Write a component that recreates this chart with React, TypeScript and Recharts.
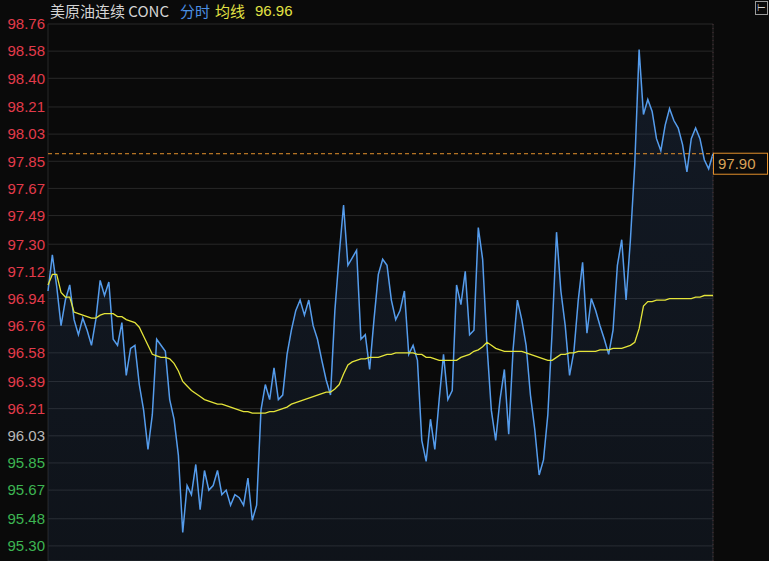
import React from 'react';
import { ComposedChart, Area, Line, XAxis, YAxis, CartesianGrid, ReferenceLine } from 'recharts';

// price ticks on the left, change % on the right (same rows)
const priceTicks = [
  98.76, 98.58, 98.40, 98.21, 98.03, 97.85, 97.67, 97.49, 97.30, 97.12,
  96.94, 96.76, 96.58, 96.39, 96.21, 96.03, 95.85, 95.67, 95.48, 95.30,
];
const pctLabels = [
  '2.84%', '2.65%', '2.46%', '2.27%', '2.08%', '1.90%', '1.71%', '1.52%', '1.33%', '1.14%',
  '0.95%', '0.76%', '0.57%', '0.38%', '0.19%', '0.00%', '0.19%', '0.38%', '0.57%', '0.76%',
];
const prevClose = 96.03;
const lastPrice = 97.90;
const avgNow = '96.96';
// hour marks on the time axis (index of 3-minute bars)
const hourMarks = [0, 20, 40, 60, 80, 100, 120];

// 3-minute samples
const prices = [
  96.99, 97.23, 97.02, 96.76, 96.93, 97.03, 96.80, 96.70, 96.81, 96.73,
  96.63, 96.80, 97.06, 96.96, 97.05, 96.67, 96.63, 96.78, 96.43, 96.61,
  96.63, 96.37, 96.20, 95.94, 96.17, 96.67, 96.63, 96.59, 96.27, 96.14,
  95.90, 95.39, 95.70, 95.64, 95.84, 95.54, 95.80, 95.67, 95.70, 95.80,
  95.64, 95.67, 95.57, 95.64, 95.62, 95.57, 95.75, 95.47, 95.57, 96.20,
  96.37, 96.27, 96.48, 96.27, 96.30, 96.57, 96.73, 96.86, 96.93, 96.83,
  96.93, 96.76, 96.67, 96.53, 96.40, 96.30, 96.86, 97.23, 97.56, 97.16,
  97.21, 97.26, 96.67, 96.70, 96.47, 96.80, 97.10, 97.20, 97.16, 96.93,
  96.80, 96.86, 96.99, 96.57, 96.63, 96.53, 96.00, 95.86, 96.14, 95.94,
  96.27, 96.57, 96.27, 96.33, 97.03, 96.90, 97.12, 96.70, 96.73, 97.41,
  97.20, 96.63, 96.20, 96.00, 96.27, 96.47, 96.04, 96.60, 96.93, 96.80,
  96.63, 96.30, 96.07, 95.77, 95.87, 96.17, 96.73, 97.38, 96.99, 96.76,
  96.43, 96.59, 96.93, 97.18, 96.71, 96.94, 96.86, 96.76, 96.67, 96.57,
  96.73, 97.16, 97.33, 96.93, 97.33, 97.83, 98.59, 98.16, 98.26, 98.18,
  98.00, 97.92, 98.09, 98.20, 98.12, 98.07, 97.96, 97.78, 98.00, 98.07,
  98.00, 97.86, 97.80, 97.90,
];

const avgLine = [
  97.03, 97.10, 97.10, 96.98, 96.95, 96.95, 96.85, 96.84, 96.83, 96.82,
  96.81, 96.81, 96.83, 96.84, 96.84, 96.84, 96.82, 96.82, 96.80, 96.79,
  96.78, 96.75, 96.69, 96.63, 96.57, 96.56, 96.55, 96.55, 96.54, 96.51,
  96.46, 96.39, 96.36, 96.33, 96.31, 96.29, 96.27, 96.26, 96.25, 96.24,
  96.24, 96.23, 96.22, 96.21, 96.20, 96.19, 96.19, 96.18, 96.18, 96.18,
  96.18, 96.19, 96.19, 96.20, 96.21, 96.22, 96.24, 96.25, 96.26, 96.27,
  96.28, 96.29, 96.30, 96.31, 96.32, 96.32, 96.34, 96.37, 96.44, 96.50,
  96.52, 96.53, 96.54, 96.54, 96.55, 96.55, 96.55, 96.56, 96.57, 96.57,
  96.58, 96.58, 96.58, 96.58, 96.58, 96.57, 96.57, 96.55, 96.55, 96.54,
  96.53, 96.53, 96.53, 96.53, 96.53, 96.55, 96.56, 96.57, 96.59, 96.60,
  96.62, 96.65, 96.63, 96.61, 96.60, 96.59, 96.59, 96.59, 96.59, 96.59,
  96.58, 96.57, 96.56, 96.55, 96.54, 96.53, 96.53, 96.55, 96.57, 96.57,
  96.58, 96.58, 96.59, 96.59, 96.59, 96.59, 96.59, 96.60, 96.60, 96.60,
  96.61, 96.61, 96.61, 96.62, 96.63, 96.65, 96.74, 96.89, 96.92, 96.92,
  96.93, 96.93, 96.93, 96.94, 96.94, 96.94, 96.94, 96.94, 96.94, 96.95,
  96.95, 96.96, 96.96, 96.96,
];

const rows = prices.map((p, i) => ({ i, price: p, avg: avgLine[i] }));

const RED = '#e23b4b';
const GREEN = '#3db552';
const GREY = '#b8b8b8';
const FONT = '"Liberation Sans", Arial, sans-serif';
const CJK = '"Noto Sans CJK SC", "Liberation Sans", sans-serif';

const tickColor = (v: number) => (Math.abs(v - prevClose) < 0.005 ? GREY : v > prevClose ? RED : GREEN);

const LeftTick = (props: any) => {
  const { x, y, payload } = props;
  return (
    <text x={x} y={y} dy="0.355em" textAnchor="end" fontSize={15} fontFamily={FONT} fill={tickColor(payload.value)}>
      {payload.value.toFixed(2)}
    </text>
  );
};

const RightTick = (props: any) => {
  const { x, y, payload } = props;
  const idx = priceTicks.indexOf(payload.value);
  // the row under the last-price tag is hidden by it
  if (idx === 5) return null;
  return (
    <text x={x} y={y} dy="0.355em" textAnchor="start" fontSize={15} fontFamily={FONT} fill={tickColor(payload.value)}>
      {pctLabels[idx]}
    </text>
  );
};

const PriceTag = (props: any) => {
  const vb = props.viewBox || {};
  const left = vb.x + vb.width;
  return (
    <g>
      <rect x={left + 0.5} y={vb.y - 0.5} width={54} height={21} fill="#0a0a0a" stroke="#e3902c" strokeWidth={1} />
      <text x={left + 5} y={vb.y + 10} dy="0.355em" fontSize={15} fontFamily={FONT} fill="#d8a257">
        {lastPrice.toFixed(2)}
      </text>
    </g>
  );
};

export default function App() {
  return (
    <div style={{ position: 'absolute', left: 0, top: 0, width: 769, height: 561, background: '#0a0a0a', overflow: 'hidden' }}>
      <div style={{ position: 'absolute', top: 0, left: 0, width: 769, height: 22, fontFamily: CJK, fontSize: 15, lineHeight: '22px' }}>
        <span style={{ position: 'absolute', left: 50, top: 0, color: '#d4d4d4' }}>美原油连续 CONC</span>
        <span style={{ position: 'absolute', left: 180, top: 0, color: '#4b8fe2' }}>分时</span>
        <span style={{ position: 'absolute', left: 215, top: 0, color: '#e2e244' }}>均线</span>
        <span style={{ position: 'absolute', left: 255, top: 0, color: '#e2e244', fontFamily: FONT }}>{avgNow}</span>
        <span style={{ position: 'absolute', left: 755, top: 1, width: 11, height: 12, border: '1px solid #9a9a9a', color: '#cfcfcf', fontSize: 10, lineHeight: '12px', textAlign: 'center', fontFamily: FONT }}>⊢</span>
      </div>
      <ComposedChart width={769} height={561} data={rows} margin={{ top: 24, right: 0, bottom: 0, left: 0 }}>
        <defs>
          <linearGradient id="areaFill" x1="0" y1="0" x2="0" y2="1">
            <stop offset="0%" stopColor="#2c4a78" stopOpacity={0.4} />
            <stop offset="100%" stopColor="#2c4a78" stopOpacity={0.24} />
          </linearGradient>
        </defs>
        <CartesianGrid yAxisId="left" stroke="#282828" strokeWidth={1} />
        <XAxis
          type="number"
          dataKey="i"
          domain={[0, prices.length - 1]}
          ticks={hourMarks}
          tick={false}
          tickLine={false}
          axisLine={false}
          height={0}
        />
        <YAxis
          yAxisId="left"
          orientation="left"
          width={48}
          domain={[95.2, 98.76]}
          ticks={priceTicks}
          interval={0}
          tickSize={0}
          tickMargin={3}
          axisLine={false}
          tickLine={false}
          tick={<LeftTick />}
        />
        <YAxis
          yAxisId="right"
          orientation="right"
          width={56}
          domain={[95.2, 98.76]}
          ticks={priceTicks}
          interval={0}
          tickSize={0}
          tickMargin={5}
          axisLine={false}
          tickLine={false}
          tick={<RightTick />}
        />
        <ReferenceLine yAxisId="left" x={prices.length - 1} stroke="#4a3036" strokeDasharray="1 3" />
        <Area
          yAxisId="left"
          type="linear"
          dataKey="price"
          stroke="#559cec"
          strokeWidth={1.5}
          fill="url(#areaFill)"
          baseValue="dataMin"
          dot={false}
          activeDot={false}
          isAnimationActive={false}
        />
        <Line
          yAxisId="left"
          type="linear"
          dataKey="avg"
          stroke="#e4e43a"
          strokeWidth={1.3}
          dot={false}
          activeDot={false}
          isAnimationActive={false}
        />
        <ReferenceLine
          yAxisId="left"
          y={lastPrice}
          stroke="#e3902c"
          strokeDasharray="4 3"
          label={<PriceTag />}
        />
      </ComposedChart>
    </div>
  );
}
